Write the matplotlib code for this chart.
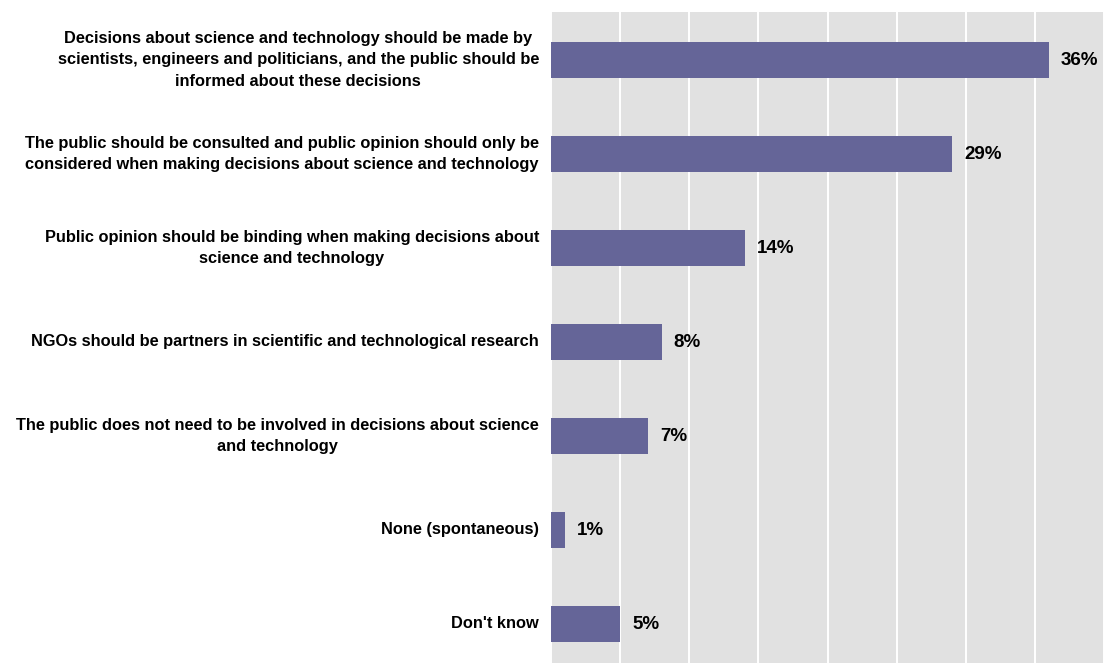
import matplotlib
matplotlib.use("Agg")
import matplotlib.pyplot as plt

# Survey answers (top to bottom) and share of respondents, in percent
categories = [
    "Decisions about science and technology should be made by\nscientists, engineers and politicians, and the public should be\ninformed about these decisions",
    "The public should be consulted and public opinion should only be\nconsidered when making decisions about science and technology",
    "Public opinion should be binding when making decisions about\nscience and technology",
    "NGOs should be partners in scientific and technological research",
    "The public does not need to be involved in decisions about science\nand technology",
    "None (spontaneous)",
    "Don't know",
]
values = [36, 29, 14, 8, 7, 1, 5]
value_labels = ["36%", "29%", "14%", "8%", "7%", "1%", "5%"]

BAR_COLOR = "#656598"
BG_COLOR = "#e1e1e1"

W, H, DPI = 1104, 663, 100
fig = plt.figure(figsize=(W / DPI, H / DPI), dpi=DPI)
fig.patch.set_facecolor("white")

left_px, top_px = 551, 12
ax = fig.add_axes([left_px / W, 0, 1 - left_px / W, 1 - top_px / H])
ax.set_facecolor(BG_COLOR)

ypos = list(range(len(values)))
ax.barh(ypos, values, height=0.39, color=BAR_COLOR, zorder=3)

px_per_pct = 14.02
ax.set_xlim(0, (W - left_px) / px_per_pct)
ax.set_ylim(6.415, -0.51)

ax.set_xticks(range(0, 45, 5))
ax.grid(axis="x", color="white", linewidth=1.4, zorder=1)
ax.grid(axis="y", visible=False)
ax.tick_params(axis="both", length=0, labelbottom=False, labelleft=False)
for s in ax.spines.values():
    s.set_visible(False)

font = "Liberation Sans"
for y, v, lab in zip(ypos, values, value_labels):
    ax.annotate(lab, xy=(v, y), xytext=(12, -1), textcoords="offset pixels",
                ha="left", va="center", fontsize=13.5, fontweight="bold",
                family=font, color="black", annotation_clip=False, zorder=4)

for y, cat in zip(ypos, categories):
    ax.annotate(cat, xy=(0, y), xytext=(-12, 0), textcoords="offset pixels",
                ha="right", va="center", multialignment="center",
                fontsize=11.8, fontweight="bold", family=font, color="black",
                linespacing=1.52, annotation_clip=False)

fig.savefig("out.png", dpi=DPI)
